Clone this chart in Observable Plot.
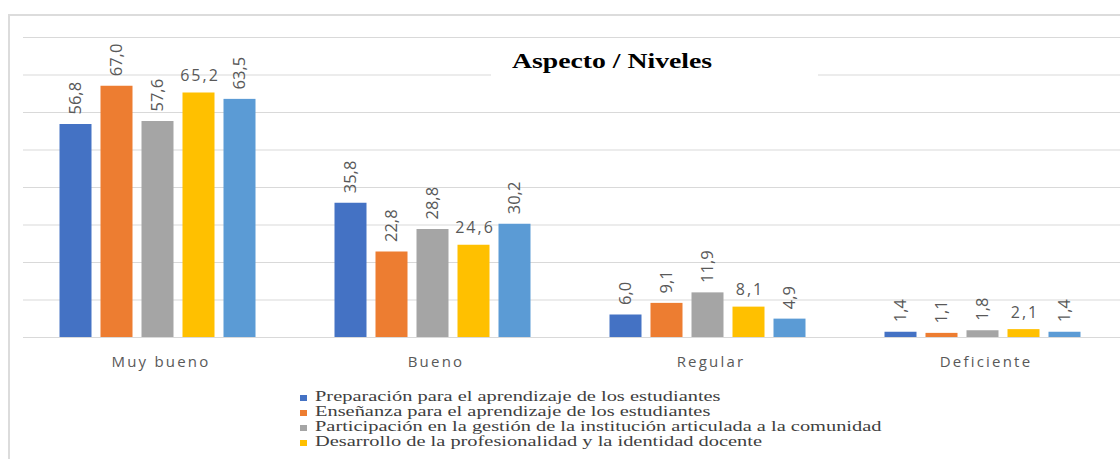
<!DOCTYPE html>
<html>
<head>
<meta charset="utf-8">
<script src="https://cdn.jsdelivr.net/npm/d3@7"></script>
<script src="https://cdn.jsdelivr.net/npm/@observablehq/plot@0.6"></script>
<style>
html,body{margin:0;padding:0;background:#fff;overflow:hidden;width:1120px;height:459px}
#wrap{position:relative;width:1120px;height:459px;overflow:hidden;background:#fff}
#chart{position:absolute;left:0;top:0}
#frame{position:absolute;left:8px;top:14px;width:1200px;height:600px;border-left:2px solid #dcdcdc;border-top:2px solid #dcdcdc;box-sizing:border-box}
#title{position:absolute;left:491px;top:42px;width:327px;height:40px;background:#fff}
#title span{position:absolute;left:21px;top:9px;font:bold 21px/21px "Liberation Serif",serif;color:#000;white-space:nowrap;transform:scaleX(1.32);transform-origin:0 0}
#legend{position:absolute;left:0;top:0}
.item{position:absolute;left:315px;height:15px;font:15px/15px "Liberation Serif",serif;color:#404040;white-space:nowrap;transform:scaleX(1.36);transform-origin:0 0}
.sw{position:absolute;left:300px;width:7px;height:6px}
g[aria-label^="fx-axis"] text{letter-spacing:2.2px}
g.hlabels text{letter-spacing:2px}
</style>
</head>
<body>
<div id="wrap">
  <div id="chart"></div>
  <div id="frame"></div>
  <div id="title"><span></span></div>
  <div id="legend"></div>
</div>
<script>
const titleText = "Aspecto / Niveles";
const levels = ["Muy bueno", "Bueno", "Regular", "Deficiente"];
const series = [
  "Preparación para el aprendizaje de los estudiantes",
  "Enseñanza para el aprendizaje de los estudiantes",
  "Participación en la gestión de la institución articulada a la comunidad",
  "Desarrollo de la profesionalidad y la identidad docente",
  "Desempeño docente"
];
const legendSeries = series.slice(0, 4);
const colors = ["#4472C4", "#ED7D31", "#A5A5A5", "#FFC000", "#5B9BD5"];
const valuesPreparacion   = [56.8, 35.8, 6.0, 1.4];
const valuesEnsenanza     = [67.0, 22.8, 9.1, 1.1];
const valuesParticipacion = [57.6, 28.8, 11.9, 1.8];
const valuesDesarrollo    = [65.2, 24.6, 8.1, 2.1];
const valuesDesempeno     = [63.5, 30.2, 4.9, 1.4];
const yTicks = [0, 10, 20, 30, 40, 50, 60, 70, 80];

const seriesValues = [valuesPreparacion, valuesEnsenanza, valuesParticipacion, valuesDesarrollo, valuesDesempeno];
const rows = [];
levels.forEach((lv, i) => series.forEach((s, j) => rows.push({level: lv, series: s, idx: j, value: seriesValues[j][i]})));
const fmt = d => d.value.toFixed(1).replace(".", ",");
const rotRows = rows.filter(d => d.idx !== 3);
const horRows = rows.filter(d => d.idx === 3);

const plot = Plot.plot({
  width: 1120,
  height: 380,
  marginTop: 37,
  marginBottom: 43,
  marginLeft: 22.5,
  marginRight: -2.5,
  style: {background: "none", fontFamily: "'Open Sans', sans-serif", fontSize: "15px", color: "#595959", overflow: "visible"},
  fx: {domain: levels, paddingInner: 0, paddingOuter: 0, axis: "bottom", tickSize: 0, tickPadding: 19, label: null},
  x: {domain: series, paddingInner: 0.214, paddingOuter: 0.881, align: 0.46, axis: null},
  y: {domain: [0, 80], axis: null},
  color: {domain: series, range: colors},
  marks: [
    Plot.ruleY(yTicks, {stroke: "#d9d9d9", strokeWidth: 1.2}),
    Plot.barY(rows, {fx: "level", x: "series", y: "value", fill: "series"}),
    Plot.text(rotRows, {fx: "level", x: "series", y: "value", text: fmt, rotate: -90, textAnchor: "start", dy: -10, fontSize: 16.5, fill: "#595959"}),
    Plot.text(horRows, {fx: "level", x: "series", y: "value", text: fmt, lineAnchor: "bottom", dy: -12, dx: 1, fontSize: 16, fill: "#595959", className: "hlabels"})
  ]
});
document.getElementById("chart").appendChild(plot);
document.querySelector("#title span").textContent = titleText;

const legend = document.getElementById("legend");
legendSeries.forEach((s, i) => {
  const top = 388.5 + i * 15.3;
  const sw = document.createElement("div");
  sw.className = "sw";
  sw.style.top = (top + 6) + "px";
  sw.style.background = colors[i];
  legend.appendChild(sw);
  const it = document.createElement("div");
  it.className = "item";
  it.style.top = top + "px";
  it.textContent = s;
  legend.appendChild(it);
});
</script>
</body>
</html>
